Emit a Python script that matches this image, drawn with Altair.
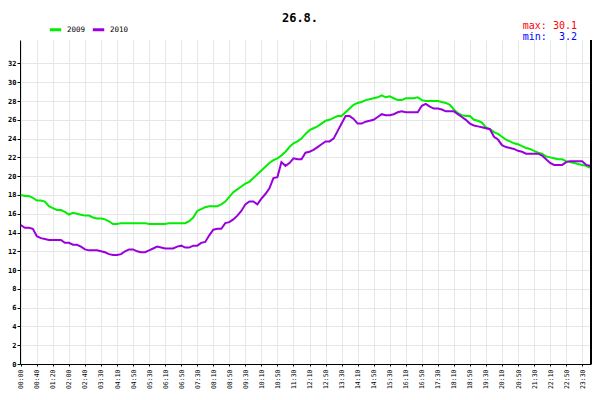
import altair as alt
import pandas as pd

# category labels: 10-minute samples, one sample missing between 02:40 and 03:30
times = []
for h in range(24):
    for m in range(0, 60, 10):
        t = f"{h:02d}:{m:02d}"
        if t != "03:00":
            times.append(t)

tick_labels = times[::4]

series_2009 = [
    18.0, 17.9, 17.9, 17.7, 17.4, 17.4, 17.3, 16.8, 16.6, 16.4,
    16.4, 16.2, 15.9, 16.1, 16.0, 15.9, 15.8, 15.8, 15.6, 15.5,
    15.5, 15.4, 15.2, 14.9, 14.9, 15.0, 15.0, 15.0, 15.0, 15.0,
    15.0, 15.0, 14.9, 14.9, 14.9, 14.9, 14.9, 15.0, 15.0, 15.0,
    15.0, 15.0, 15.2, 15.6, 16.3, 16.5, 16.7, 16.8, 16.8, 16.8,
    17.0, 17.3, 17.8, 18.3, 18.6, 18.9, 19.2, 19.4, 19.8, 20.2,
    20.6, 21.0, 21.4, 21.7, 21.9, 22.2, 22.6, 23.1, 23.5, 23.7,
    24.0, 24.5, 24.9, 25.1, 25.3, 25.6, 25.9, 26.0, 26.2, 26.4,
    26.4, 26.8, 27.2, 27.6, 27.8, 27.9, 28.1, 28.2, 28.3, 28.4,
    28.6, 28.4, 28.5, 28.3, 28.1, 28.1, 28.3, 28.3, 28.3, 28.4,
    28.1, 28.0, 28.0, 28.0, 28.0, 27.9, 27.8, 27.6, 27.1, 26.7,
    26.5, 26.4, 26.4, 26.0, 25.9, 25.7, 25.2, 25.0, 24.7, 24.5,
    24.2, 23.9, 23.7, 23.5, 23.4, 23.2, 23.0, 22.9, 22.7, 22.5,
    22.4, 22.1, 22.0, 21.9, 21.8, 21.8, 21.6, 21.5, 21.4, 21.3,
    21.2, 21.1, 20.9,
]

series_2010 = [
    14.8, 14.5, 14.5, 14.4, 13.6, 13.4, 13.3, 13.2, 13.2, 13.2,
    13.2, 12.9, 12.9, 12.7, 12.7, 12.5, 12.2, 12.1, 12.1, 12.1,
    12.0, 11.9, 11.7, 11.6, 11.6, 11.7, 12.0, 12.2, 12.2, 12.0,
    11.9, 11.9, 12.1, 12.3, 12.5, 12.4, 12.3, 12.3, 12.3, 12.5,
    12.6, 12.4, 12.4, 12.6, 12.6, 12.9, 13.0, 13.7, 14.3, 14.4,
    14.4, 15.0, 15.1, 15.4, 15.8, 16.3, 17.0, 17.3, 17.3, 17.0,
    17.6, 18.1, 18.7, 19.8, 19.9, 21.5, 21.1, 21.4, 21.9, 21.8,
    21.8, 22.5, 22.6, 22.8, 23.1, 23.4, 23.7, 23.7, 24.0, 24.8,
    25.6, 26.4, 26.4, 26.1, 25.6, 25.6, 25.8, 25.9, 26.0, 26.3,
    26.6, 26.5, 26.5, 26.6, 26.8, 26.9, 26.8, 26.8, 26.8, 26.8,
    27.5, 27.7, 27.4, 27.2, 27.2, 27.1, 26.9, 26.9, 26.9, 26.6,
    26.3, 26.0, 25.6, 25.4, 25.3, 25.2, 25.1, 25.0, 24.2, 23.9,
    23.3, 23.1, 23.0, 22.9, 22.7, 22.6, 22.4, 22.4, 22.4, 22.4,
    22.2, 21.8, 21.4, 21.2, 21.2, 21.2, 21.5, 21.6, 21.6, 21.6,
    21.6, 21.2, 21.1,
]

series_names = ["2009", "2010"]
series_colors = ["#00ee00", "#9900dd"]
y_ticks = list(range(0, 33, 2))

chart_title = ["26.8."]
stat_texts = ["max: 30.1", "min:\u00a0\u00a03.2"]
stat_colors = ["#ff0000", "#0000ff"]

MONO = "DejaVu Sans Mono"
W, H = 571, 324

rows = []
for i, t in enumerate(times):
    rows.append({"time": t, "year": "2009", "value": series_2009[i]})
    rows.append({"time": t, "year": "2010", "value": series_2010[i]})
df = pd.DataFrame(rows)

lines = alt.Chart(df).mark_line(strokeWidth=2, interpolate="linear").encode(
    x=alt.X(
        "time:O",
        sort=times,
        scale=alt.Scale(type="point", padding=0.2),
        axis=alt.Axis(
            values=tick_labels,
            title=None,
            labelAngle=270,
            labelFont=MONO,
            labelFontSize=6.5,
            labelColor="#000000",
            labelPadding=3,
            tickSize=2,
            tickColor="#000000",
            domainColor="#000000",
            grid=True,
            gridColor="#e6e6e6",
            labelOverlap=False,
        ),
    ),
    y=alt.Y(
        "value:Q",
        scale=alt.Scale(domain=[0, 34.5], nice=False, zero=True),
        axis=alt.Axis(
            values=y_ticks,
            title=None,
            labelFont=MONO,
            labelFontSize=7,
            labelFontWeight="bold",
            labelColor="#000000",
            labelPadding=1,
            tickSize=3,
            tickColor="#000000",
            domainColor="#000000",
            grid=True,
            gridColor="#e6e6e6",
        ),
    ),
    color=alt.Color(
        "year:N",
        scale=alt.Scale(domain=series_names, range=series_colors),
        legend=alt.Legend(
            title=None,
            orient="none",
            legendX=28,
            legendY=-18,
            direction="horizontal",
            symbolType="stroke",
            symbolStrokeWidth=3,
            symbolSize=130,
            labelFont=MONO,
            labelFontSize=7.5,
            labelColor="#000000",
            columnPadding=0,
            labelOffset=4,
        ),
    ),
)

right_frame = alt.Chart(pd.DataFrame({"k": [0]})).mark_rule(
    color="#000000", strokeWidth=2
).encode(x=alt.value(W), y=alt.value(0), y2=alt.value(H))

title_mark = alt.Chart(pd.DataFrame({"t": chart_title})).mark_text(
    font=MONO, fontSize=12, fontWeight="bold",
    align="center", baseline="alphabetic", color="#000000",
).encode(text="t:N", x=alt.value(280), y=alt.value(-18))

max_mark = alt.Chart(pd.DataFrame({"t": stat_texts[:1]})).mark_text(
    font=MONO, fontSize=10, align="right",
    baseline="alphabetic", color=stat_colors[0],
).encode(text="t:N", x=alt.value(557), y=alt.value(-11))

min_mark = alt.Chart(pd.DataFrame({"t": stat_texts[1:]})).mark_text(
    font=MONO, fontSize=10, align="right",
    baseline="alphabetic", color=stat_colors[1],
).encode(text="t:N", x=alt.value(557), y=alt.value(0))

chart = (
    alt.layer(lines, right_frame, title_mark, max_mark, min_mark)
    .properties(
        width=W,
        height=H,
        autosize=alt.AutoSizeParams(type="none"),
        padding={"left": 12, "top": 32, "right": 1, "bottom": 28},
        background="#ffffff",
    )
    .configure_view(stroke=None)
)

chart.save("out.html", embed_options={"renderer": "svg", "actions": False})
